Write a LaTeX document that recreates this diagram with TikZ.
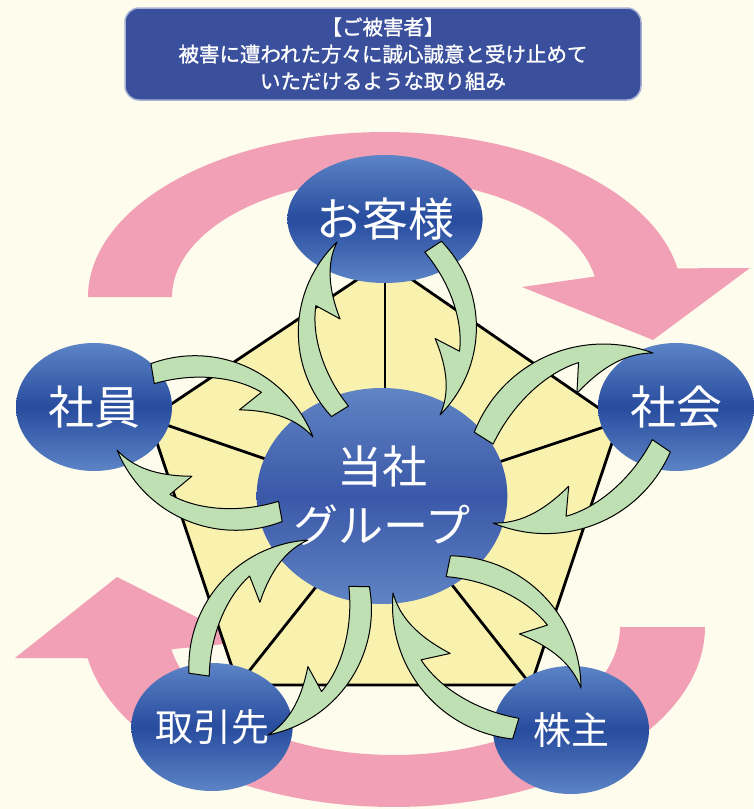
\documentclass[tikz,border=0pt]{standalone}
\usepackage{fontspec}
\newfontfamily\jp{Noto Sans CJK JP}
\newfontfamily\jpb[FakeBold=1.2]{Noto Sans CJK JP}
\usetikzlibrary{shapes.geometric}
\definecolor{bgc}{RGB}{254,252,236}
\definecolor{pinkc}{RGB}{241,160,182}
\definecolor{pentc}{RGB}{249,241,174}
\definecolor{blueD}{RGB}{40,76,158}
\definecolor{blueL}{RGB}{92,132,198}
\definecolor{ctrD}{RGB}{58,88,168}
\definecolor{ctrL}{RGB}{96,132,196}
\definecolor{boxc}{RGB}{58,80,156}
\definecolor{boxb}{RGB}{168,178,214}
\definecolor{greenc}{RGB}{190,224,178}
\tikzset{
  circ/.style={ellipse, minimum width=156pt, minimum height=128pt, inner sep=0pt,
    top color=blueL, bottom color=blueL, middle color=blueD, text=white,
    font=\jp\fontsize{46}{50}\selectfont},
  circsmall/.style={circ, font=\jp\fontsize{38}{42}\selectfont},
  ctr/.style={ellipse, minimum width=248pt, minimum height=216pt, inner sep=0pt,
    top color=ctrL, bottom color=ctrL, middle color=ctrD, text=white, align=center,
    font=\jp\fontsize{45}{59}\selectfont},
  garr/.style={draw=black, line width=1pt, fill=greenc, line join=round},
  pedge/.style={draw=black, line width=2.8pt, line join=miter},
  topbox/.style={rounded corners=14pt, fill=boxc, draw=boxb, line width=1.5pt,
    minimum width=516pt, minimum height=92pt, text=white, align=center,
    font=\jpb\fontsize{20.5}{27}\selectfont},
}
\newcommand\garrow[4]{%
  \pgfmathsetmacro\gdx{#3-#1}%
  \pgfmathsetmacro\gdy{#2-#4}%
  \pgfmathsetmacro\glen{veclen(\gdx,\gdy)}%
  \pgfmathsetmacro\gang{atan2(\gdy,\gdx)}%
  \begin{scope}[shift={(#1,#2)},rotate=\gang,xscale=\glen,yscale=-\glen]
    \draw[garr] (-0.02,0.05) .. controls (0.27,0.31) and (0.72,0.30) .. (1,0)
      .. controls (0.88,0.06) and (0.74,0.06) .. (0.55,-0.01) -- (0.63,0.13)
      .. controls (0.45,0.16) and (0.22,0.09) .. (0.04,-0.05) -- cycle;
  \end{scope}}
\begin{document}
\begin{tikzpicture}[x=1pt,y=-1pt]
\fill[bgc] (0,0) rectangle (753,809);
\useasboundingbox (0,0) rectangle (753,809);
% pink circular arrows
\fill[pinkc] plot[domain=180:350,samples=90] ({385+297*cos(\x)},{297+165*sin(\x)})
  -- (750,268) -- (653,340) -- (522,287)
  -- plot[domain=350:180,samples=90] ({385+213*cos(\x)},{297+118*sin(\x)}) -- cycle;
\fill[pinkc] plot[domain=0:170,samples=90] ({394+311*cos(\x)},{627+180*sin(\x)})
  -- (15,658) -- (117,577) -- (246,642)
  -- plot[domain=170:0,samples=90] ({394+226*cos(\x)},{627+128*sin(\x)}) -- cycle;
% pentagon
\coordinate (T) at (385,261);
\coordinate (UR) at (619,422);
\coordinate (BR) at (531,685);
\coordinate (BL) at (238,685);
\coordinate (UL) at (149,419);
\coordinate (C) at (385,500);
\fill[pentc] (T) -- (UR) -- (BR) -- (BL) -- (UL) -- cycle;
\foreach \v in {T,UR,BR,BL,UL} \draw[pedge] (\v) -- (C);
\draw[pedge] (T) -- (UR) -- (BR) -- (BL) -- (UL) -- cycle;
% circles
\node[ctr] (grp) at (382,496) {当社\\グループ};
\node[circ] (kyaku) at (385,219) {お客様};
\node[circ] (shain) at (94,407) {社員};
\node[circ] (shakai) at (676,407) {社会};
\node[circsmall] (torihiki) at (212,727) {取引先};
\node[circsmall] (kabu) at (571,730) {株主};
% green arrows
\garrow{340}{413}{337}{242}
\garrow{433}{245}{440}{415}
\garrow{151}{373}{313}{437}
\garrow{282}{512}{117}{450}
\garrow{482}{439}{653}{353}
\garrow{663}{445}{493}{523}
\garrow{447}{565}{581}{688}
\garrow{517}{730}{393}{593}
\garrow{198}{676}{308}{540}
\garrow{360}{585}{268}{735}
% top box
\node[topbox] (box) at (383,54) {【ご被害者】\\被害に遭われた方々に誠心誠意と受け止めて\\いただけるような取り組み};
\end{tikzpicture}
\end{document}
